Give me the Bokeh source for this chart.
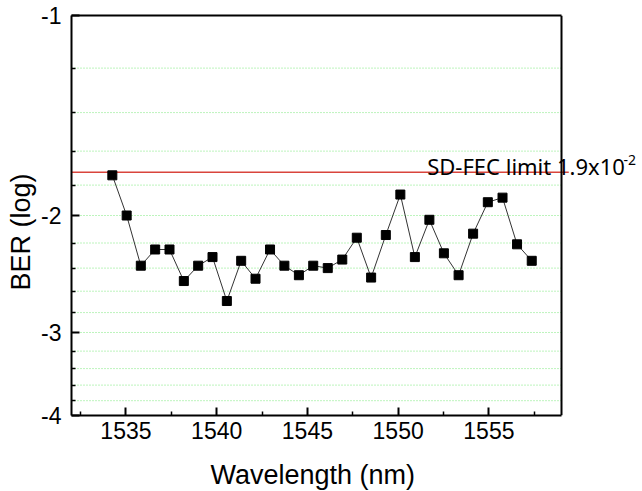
import numpy as np
from bokeh.plotting import figure
from bokeh.models import (Range1d, FixedTicker, CustomJSTickFormatter, Span, Label,
                          ColumnDataSource, LinearAxis, Title)
from bokeh.embed import file_html
from bokeh.resources import INLINE

# Data
wavelength_nm = [1534.25, 1535.04, 1535.82, 1536.61, 1537.40, 1538.19, 1538.98, 1539.77,
                 1540.56, 1541.35, 1542.14, 1542.94, 1543.73, 1544.53, 1545.32, 1546.12,
                 1546.92, 1547.72, 1548.51, 1549.32, 1550.12, 1550.92, 1551.72, 1552.52,
                 1553.33, 1554.13, 1554.94, 1555.75, 1556.55, 1557.36]
ber_log = [-1.74, -2.00, -2.38, -2.25, -2.25, -2.51, -2.38, -2.31,
           -2.69, -2.34, -2.49, -2.25, -2.38, -2.46, -2.38, -2.40,
           -2.33, -2.16, -2.48, -2.14, -1.86, -2.31, -2.03, -2.28,
           -2.46, -2.13, -1.91, -1.88, -2.21, -2.34]
fec_limit_ber = 1.9e-2
y_major_ticks = [-1, -2, -3, -4]
y_minor_ticks = [-1.2, -1.4, -1.6, -1.8, -2.2, -2.4, -2.6, -2.8,
                 -3.2, -3.4, -3.6, -3.8]
x_major_ticks = [1535, 1540, 1545, 1550, 1555]
x_minor_ticks = [1532.5, 1537.5, 1542.5, 1547.5, 1552.5, 1557.5]
x_min, x_max = 1532, 1559


def tr(v):
    # double-log BER axis: position = log10(-log10(BER))
    return np.log10(-np.asarray(v, dtype=float))


src = ColumnDataSource(dict(x=wavelength_nm, y=tr(ber_log)))
fec_y = float(tr(np.log10(fec_limit_ber)))

W, H = 642, 491
left, right = 71, 0
frame_w_axis = 490  # pixels between x_min and x_max
x_end = x_max + (W - left - right - frame_w_axis) * (x_max - x_min) / frame_w_axis

p = figure(width=W, height=H, output_backend="svg", toolbar_location=None,
           x_range=Range1d(x_min, x_end),
           y_range=Range1d(float(tr(-4)), float(tr(-1))),
           min_border_left=left, min_border_top=15, min_border_right=right,
           min_border_bottom=76)
p.background_fill_color = "white"
p.border_fill_color = "white"
p.outline_line_color = None
p.xgrid.visible = False
p.ygrid.visible = False

# dotted green grid lines, limited to the axis box
grid_levels = list(tr(y_minor_ticks + [-2, -3]))
p.segment(x0=[x_min] * len(grid_levels), x1=[x_max] * len(grid_levels),
          y0=grid_levels, y1=grid_levels, line_color="#7be87b",
          line_dash="1 2", line_width=1)

# y axis
ya = p.yaxis[0]
ya.ticker = FixedTicker(ticks=list(tr(y_major_ticks)), minor_ticks=list(tr(y_minor_ticks)))
ya.formatter = CustomJSTickFormatter(code="return '-' + Math.round(Math.pow(10, tick));")

# x axis
xa = p.xaxis[0]
xa.ticker = FixedTicker(ticks=x_major_ticks, minor_ticks=x_minor_ticks)
xa.bounds = (x_min, x_max)
# invisible spacer label to push the title down
xa.axis_label = " "
xa.axis_label_text_font_size = "1px"
xa.axis_label_standoff = 12

for ax in (xa, ya):
    ax.axis_line_width = 2
    ax.axis_line_color = "black"
    ax.major_tick_in = 8
    ax.major_tick_out = 0
    ax.minor_tick_in = 4
    ax.minor_tick_out = 0
    ax.major_tick_line_width = 2
    ax.minor_tick_line_width = 1.5
    ax.major_tick_line_color = "black"
    ax.minor_tick_line_color = "black"
    ax.major_label_text_font = "Liberation Sans"
    ax.major_label_text_font_size = "23px"
    ax.major_label_text_color = "black"

ya.major_label_standoff = 10
xa.major_label_standoff = 6

# axis titles (placed like the reference, not centred on the frame)
p.add_layout(Title(text="Wavelength (nm)", align="left", offset=139,
                   text_font="Liberation Sans", text_font_size="27px",
                   text_font_style="normal", text_color="black", standoff=0), "below")
p.add_layout(Title(text="BER (log)", align="left", offset=125,
                   text_font="Liberation Sans", text_font_size="27px",
                   text_font_style="normal", text_color="black", standoff=6), "left")

# top border of the box
top = LinearAxis(ticker=FixedTicker(ticks=[]), bounds=(x_min, x_max),
                 major_label_text_font_size="0px", major_tick_out=0, major_tick_in=0,
                 minor_tick_out=0, minor_tick_in=0, major_label_standoff=0,
                 axis_line_width=2, axis_line_color="black")
p.add_layout(top, "above")

# right border of the box
p.add_layout(Span(location=x_max, dimension="height", line_color="black", line_width=2))

# FEC limit line
p.segment(x0=[x_min - 0.2], x1=[x_max + 0.4], y0=[fec_y], y1=[fec_y],
          line_color="#d9443c", line_width=1.5)

p.line("x", "y", source=src, line_color="#333333", line_width=1)
p.scatter("x", "y", source=src, marker="square", size=9, fill_color="black",
          line_color="black")

p.add_layout(Label(x=1551.6, y=fec_y, y_offset=6, text="SD-FEC limit 1.9x10",
                   text_font="Noto Sans", text_font_size="22px",
                   text_baseline="alphabetic", text_color="black"))
p.add_layout(Label(x=1562.42, y=fec_y, y_offset=12.5, text="-2",
                   text_font="Noto Sans", text_font_size="14px",
                   text_baseline="alphabetic", text_color="black"))

open("out.html", "w").write(file_html(p, INLINE))
